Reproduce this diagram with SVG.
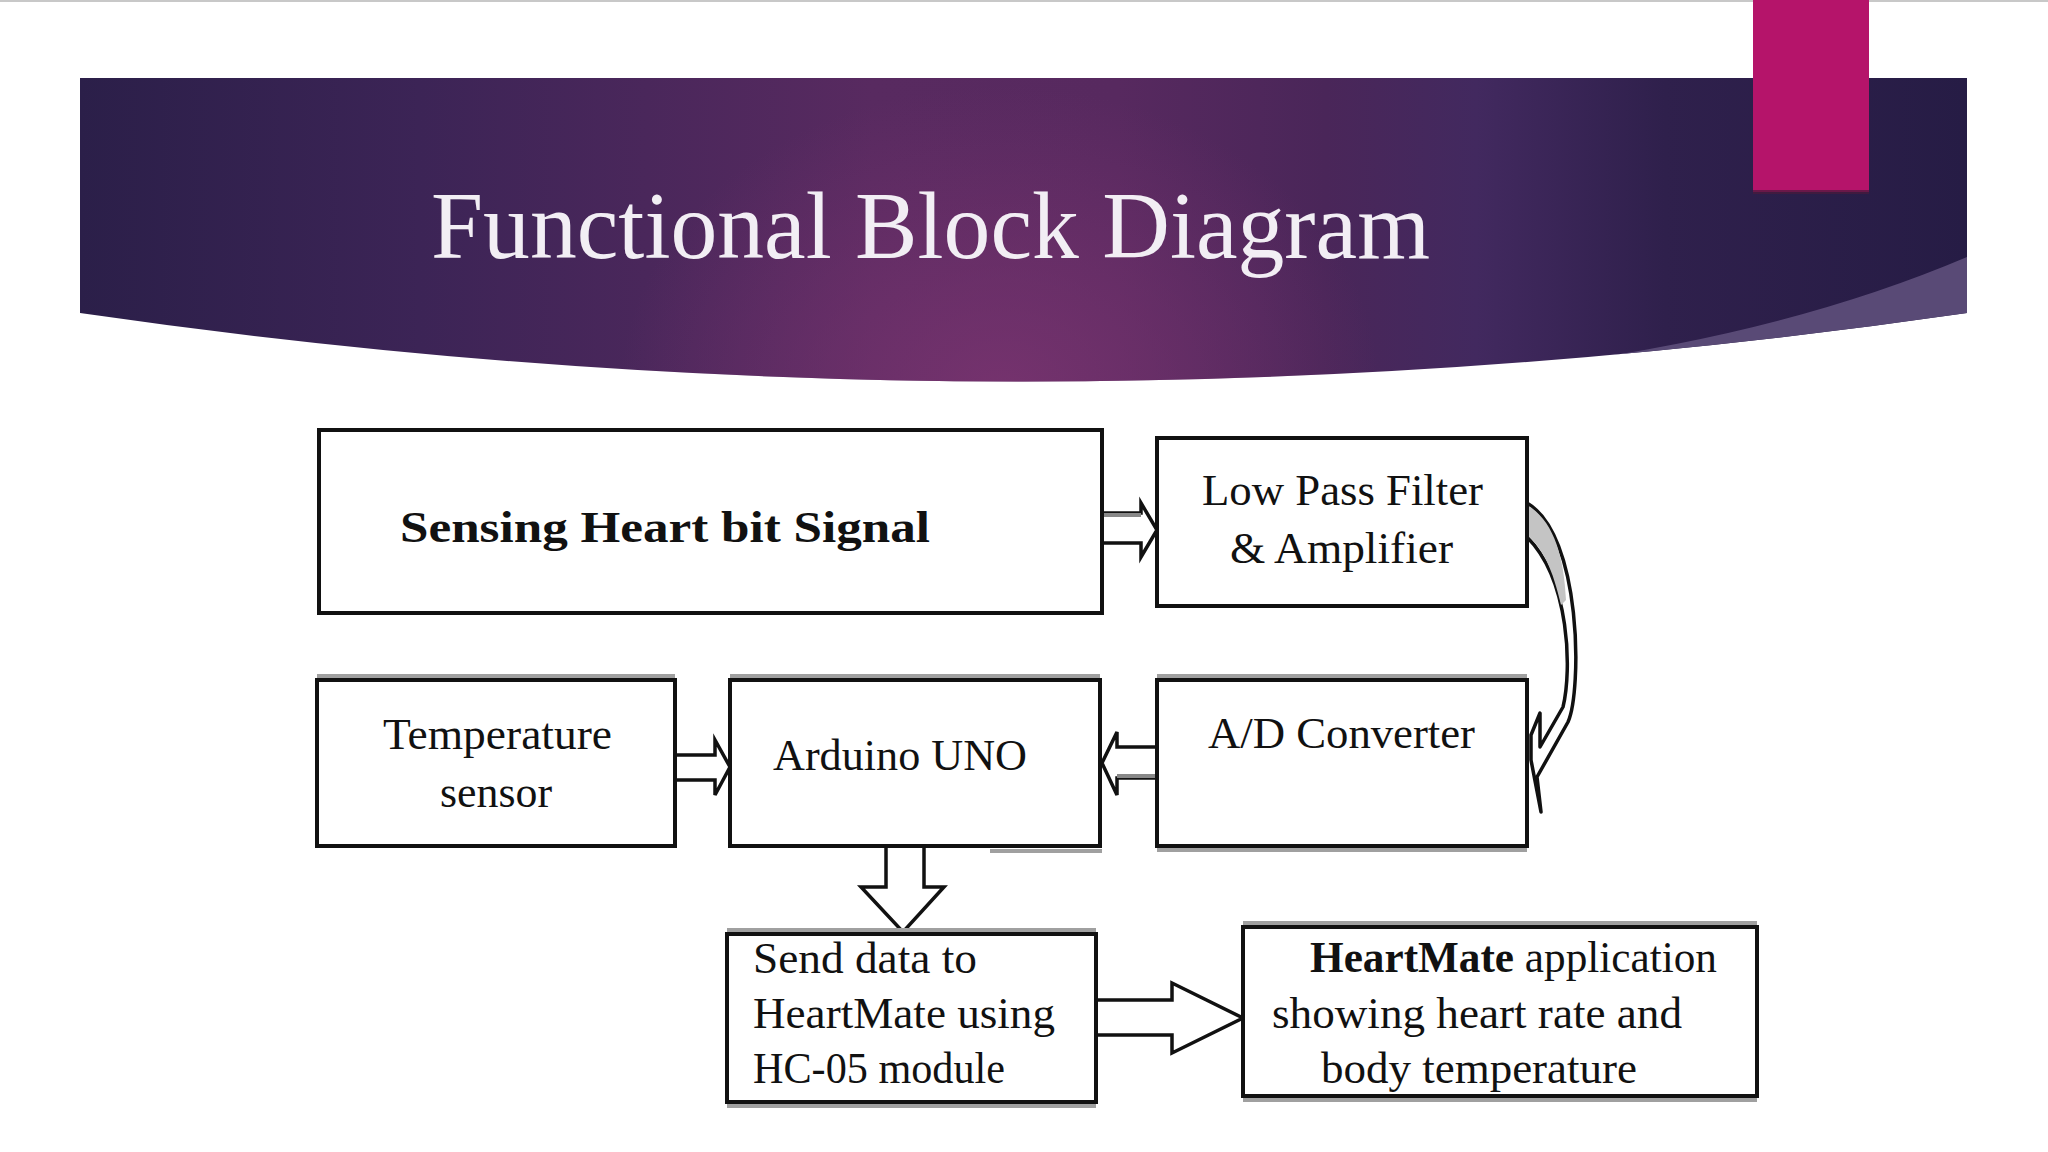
<svg xmlns="http://www.w3.org/2000/svg" width="2048" height="1152" viewBox="0 0 2048 1152">
<defs>
<linearGradient id="hg" x1="0" y1="0" x2="1" y2="0">
<stop offset="0" stop-color="#2b1f49"/>
<stop offset="0.18" stop-color="#3c2456"/>
<stop offset="0.42" stop-color="#582a60"/>
<stop offset="0.55" stop-color="#57295f"/>
<stop offset="0.66" stop-color="#4a2659"/>
<stop offset="0.74" stop-color="#42295f"/>
<stop offset="0.84" stop-color="#2f204c"/>
<stop offset="1" stop-color="#261c45"/>
</linearGradient>
<radialGradient id="glow" cx="1000" cy="390" r="380" gradientUnits="userSpaceOnUse" gradientTransform="translate(1000 390) scale(1 0.8) translate(-1000 -390)">
<stop offset="0" stop-color="#7a3470" stop-opacity="0.85"/>
<stop offset="1" stop-color="#7a3470" stop-opacity="0"/>
</radialGradient>
<clipPath id="bandClip"><path d="M80,78 L1967,78 L1967,313 Q1023,450 80,313 Z"/></clipPath>
<style>
.box{fill:#fff;stroke:#111;stroke-width:4}
.sh{fill:none;stroke:#a0a0a0;stroke-width:4}
.t{font-family:"Liberation Serif","Times New Roman",serif;font-size:45px;fill:#111}
.b{font-weight:bold}
.arr{fill:#fff;stroke:#111;stroke-width:3.5;stroke-linejoin:miter}
</style>
</defs>
<rect width="2048" height="1152" fill="#fff"/>
<rect x="0" y="0" width="2048" height="2" fill="#c8c8c8"/>
<g id="header">
<path d="M80,78 L1967,78 L1967,313 Q1023,450 80,313 Z" fill="url(#hg)"/>
<g clip-path="url(#bandClip)">
<rect x="80" y="78" width="1887" height="320" fill="url(#glow)"/>
<path d="M1967,257 Q1760,345 1476,373 L1476,520 L1967,520 Z" fill="#594a76"/>
</g>
<rect x="1753" y="0" width="116" height="192" fill="#b5146a"/>
<rect x="1753" y="190" width="116" height="4" fill="#4a1a3c" opacity="0.7"/>
<text x="431" y="258" font-family="'Liberation Serif','Times New Roman',serif" font-size="96" fill="#f2eef4" textLength="999" lengthAdjust="spacingAndGlyphs">Functional Block Diagram</text>
</g>
<g id="connectors">
<path class="arr" d="M1103,513 L1141,513 L1141,503 L1157,530 L1141,557 L1141,543 L1103,543"/>
<line x1="1103" y1="515" x2="1141" y2="515" stroke="#888" stroke-width="4"/>
<path class="arr" d="M675,755 L715,755 L715,740 L730,767 L715,795 L715,780 L675,780"/>
<path class="arr" d="M1157,747 L1117,747 L1117,732 L1102,763 L1117,795 L1117,778 L1157,778"/>
<line x1="1117" y1="776" x2="1157" y2="776" stroke="#888" stroke-width="4"/>
<path class="arr" d="M886,845 L886,887 L861,887 L903,932 L944,887 L924,887 L924,845"/>
<rect x="886" y="841" width="38" height="6" fill="#111"/>
<path class="arr" d="M1096,1000 L1172,1000 L1172,983 L1243,1018 L1172,1053 L1172,1035 L1096,1035"/>
<path d="M1527,503 C1582,535 1582,690 1568,722 L1537,777 L1541,812 L1531,760 L1531,735 L1540,713 L1540,747 L1563,707 C1572,670 1570,580 1527,537 Z" fill="#fff" stroke="#111" stroke-width="3.5" stroke-linejoin="round"/>
<path d="M1527,505 C1553,520 1564,555 1566,600 L1561,605 C1553,570 1543,548 1527,535 Z" fill="#c4c4c4"/>
</g>
<g id="sensing">
<rect class="box" x="319" y="430" width="783" height="183"/>
<text class="t b" x="400" y="542" font-size="51" textLength="530" lengthAdjust="spacingAndGlyphs">Sensing Heart bit Signal</text>
</g>
<g id="lowpass">
<line class="sh" x1="1160" y1="442" x2="1524" y2="442"/>
<line class="sh" x1="1160" y1="602" x2="1524" y2="602"/>
<rect class="box" x="1157" y="438" width="370" height="168"/>
<text class="t" x="1202" y="505" textLength="281" lengthAdjust="spacingAndGlyphs">Low Pass Filter</text>
<text class="t" x="1230" y="563" textLength="223" lengthAdjust="spacingAndGlyphs">&amp; Amplifier</text>
</g>
<g id="temperature">
<line class="sh" x1="317" y1="676" x2="675" y2="676"/>
<line class="sh" x1="322" y1="682" x2="322" y2="843"/>
<rect class="box" x="317" y="680" width="358" height="166"/>
<text class="t" x="383" y="749" textLength="229" lengthAdjust="spacingAndGlyphs">Temperature</text>
<text class="t" x="440" y="807" textLength="112" lengthAdjust="spacingAndGlyphs">sensor</text>
</g>
<g id="arduino">
<line class="sh" x1="730" y1="676" x2="1100" y2="676"/>
<line class="sh" x1="990" y1="851" x2="1102" y2="851"/>
<rect class="box" x="730" y="680" width="370" height="166"/>
<text class="t" x="773" y="770" textLength="254" lengthAdjust="spacingAndGlyphs">Arduino UNO</text>
</g>
<g id="adconverter">
<line class="sh" x1="1157" y1="676" x2="1527" y2="676"/>
<line class="sh" x1="1157" y1="850" x2="1527" y2="850"/>
<rect class="box" x="1157" y="680" width="370" height="166"/>
<text class="t" x="1208" y="748" textLength="267" lengthAdjust="spacingAndGlyphs">A/D Converter</text>
</g>
<g id="senddata">
<line class="sh" x1="727" y1="930" x2="1096" y2="930"/>
<line class="sh" x1="727" y1="1106" x2="1096" y2="1106"/>
<rect class="box" x="727" y="934" width="369" height="168"/>
<text class="t" x="753" y="973" textLength="224" lengthAdjust="spacingAndGlyphs">Send data to</text>
<text class="t" x="753" y="1028" textLength="302" lengthAdjust="spacingAndGlyphs">HeartMate using</text>
<text class="t" x="753" y="1083" textLength="252" lengthAdjust="spacingAndGlyphs">HC-05 module</text>
</g>
<g id="heartmate">
<line class="sh" x1="1243" y1="923" x2="1757" y2="923"/>
<line class="sh" x1="1243" y1="1100" x2="1757" y2="1100"/>
<rect class="box" x="1243" y="927" width="514" height="169"/>
<text class="t" x="1310" y="972" textLength="407" lengthAdjust="spacingAndGlyphs"><tspan class="b">HeartMate</tspan> application</text>
<text class="t" x="1272" y="1028" textLength="410" lengthAdjust="spacingAndGlyphs">showing heart rate and</text>
<text class="t" x="1321" y="1083" textLength="316" lengthAdjust="spacingAndGlyphs">body temperature</text>
</g>
</svg>
